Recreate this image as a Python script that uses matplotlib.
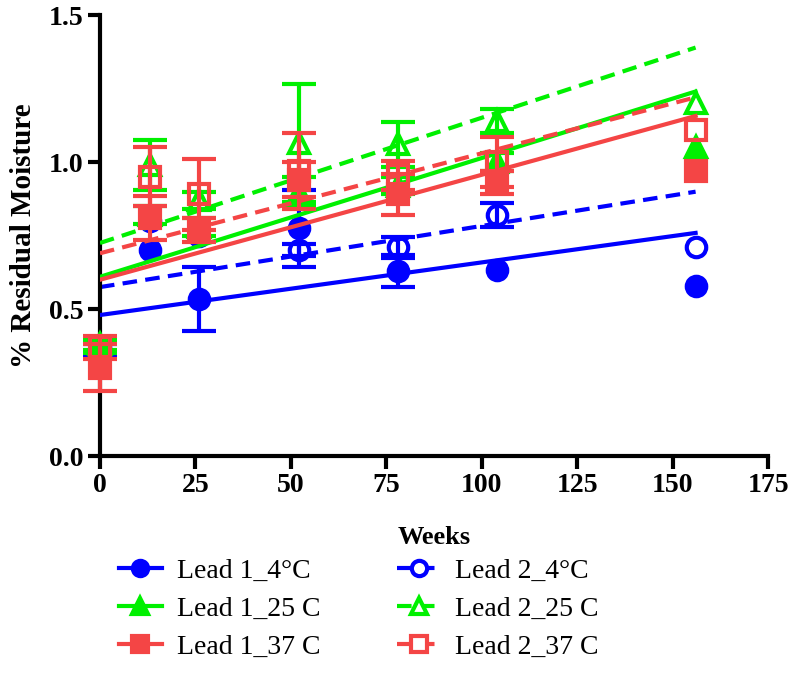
import matplotlib
matplotlib.use("Agg")
import matplotlib.pyplot as plt
import numpy as np

weeks = [0, 13, 26, 52, 78, 104, 156]

labels = ["Lead 1_4°C", "Lead 1_25 C", "Lead 1_37 C",
          "Lead 2_4°C", "Lead 2_25 C", "Lead 2_37 C"]

lead1_4 = [0.36, 0.70, 0.535, 0.775, 0.63, 0.633, 0.58]
lead1_4_err = [0.02, 0.0, 0.11, 0.13, 0.055, 0.0, 0.0]
lead1_25 = [0.37, 0.82, 0.78, 0.90, 0.92, 1.00, 1.05]
lead1_25_err = [0.02, 0.03, 0.03, 0.05, 0.03, 0.03, 0.0]
lead1_37 = [0.30, 0.81, 0.77, 0.94, 0.89, 0.93, 0.97]
lead1_37_err = [0.08, 0.075, 0.04, 0.06, 0.07, 0.04, 0.0]
lead2_4 = [0.37, 0.80, 0.75, 0.70, 0.71, 0.82, 0.71]
lead2_4_err = [0.02, 0.0, 0.0, 0.02, 0.035, 0.04, 0.0]
lead2_25 = [0.38, 0.99, 0.87, 1.065, 1.06, 1.14, 1.20]
lead2_25_err = [0.02, 0.085, 0.03, 0.20, 0.075, 0.04, 0.0]
lead2_37 = [0.37, 0.95, 0.89, 0.97, 0.955, 1.00, 1.11]
lead2_37_err = [0.04, 0.10, 0.12, 0.13, 0.05, 0.085, 0.0]

# linear regression fits (intercept, slope per week)
fit_intercept = [0.48, 0.61, 0.60, 0.575, 0.725, 0.69]
fit_slope = [0.00179, 0.00404, 0.00357, 0.00208, 0.00426, 0.00340]

xticks = [0, 25, 50, 75, 100, 125, 150, 175]
yticks = [0.0, 0.5, 1.0, 1.5]

series = [lead1_4, lead1_25, lead1_37, lead2_4, lead2_25, lead2_37]
errs = [lead1_4_err, lead1_25_err, lead1_37_err, lead2_4_err, lead2_25_err, lead2_37_err]

BLUE = "#0000FF"
GREEN = "#00F000"
RED = "#F44545"
colors = [BLUE, GREEN, RED, BLUE, GREEN, RED]
markers = ["o", "^", "s", "o", "^", "s"]
filled = [True, True, True, False, False, False]
DASH = (0, (3.5, 2))
styles = ["-", "-", "-", DASH, DASH, DASH]

plt.rcParams['font.family'] = ['Liberation Serif', 'DejaVu Serif']

fig = plt.figure(figsize=(7.96, 6.87), dpi=100)
ax = fig.add_axes([0.1256, 0.336, 0.8394, 0.642])

order = [3, 0, 1, 4, 2, 5]
handles = {}
wk = np.array(weeks)
for k, i in enumerate(order):
    c = colors[i]
    y = np.array(series[i])
    e = np.array(errs[i])
    m = e > 0
    eb = ax.errorbar(wk[m], y[m], yerr=e[m], fmt="none", ecolor=c, elinewidth=3,
                     capsize=12, capthick=3, zorder=2 + k)
    for art in eb.lines[1] + eb.lines[2]:
        art.set_clip_on(False)
    ax.plot(weeks, y, linestyle="none", marker=markers[i], markersize=14,
            markerfacecolor=c if filled[i] else "none",
            markeredgecolor=c, markeredgewidth=3, zorder=2.5 + k, clip_on=False)
    xf = np.array([0, weeks[-1]])
    yf = fit_intercept[i] + fit_slope[i] * xf
    ax.plot(xf, yf, color=c, linestyle=styles[i], linewidth=3, zorder=2 + k)
    h, = ax.plot([], [], color=c, linestyle=styles[i], linewidth=3,
                 marker=markers[i], markersize=11,
                 markerfacecolor=c if filled[i] else "white",
                 markeredgecolor=c, markeredgewidth=3)
    handles[i] = h

ax.set_xlim(0, 175)
ax.set_ylim(0, 1.5)
ax.set_xticks(xticks)
ax.set_yticks(yticks)
ax.set_xticklabels([str(t) for t in xticks], fontsize=20, fontweight="bold")
ax.set_yticklabels([f"{t:.1f}" for t in yticks], fontsize=20, fontweight="bold")
ax.spines["top"].set_visible(False)
ax.spines["right"].set_visible(False)
for s in ["left", "bottom"]:
    ax.spines[s].set_linewidth(3)
ax.tick_params(direction="out", length=9, width=3, pad=3)
ax.set_xlabel("Weeks", fontsize=19, fontweight="bold", labelpad=20)
ax.set_ylabel("% Residual Moisture", fontsize=21, fontweight="bold", labelpad=8)

leg = fig.legend([handles[i] for i in range(6)], labels, loc="upper left",
                 bbox_to_anchor=(0.118, 0.224), ncol=2, frameon=False,
                 fontsize=20, handlelength=1.55, columnspacing=2.75,
                 labelspacing=0.45, handletextpad=0.55)

fig.savefig("out.png", dpi=100)
